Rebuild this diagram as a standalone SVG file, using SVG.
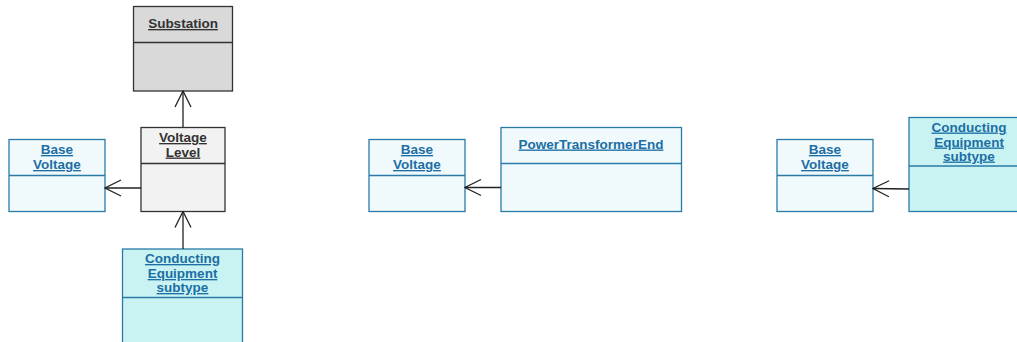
<svg xmlns="http://www.w3.org/2000/svg" width="1017" height="342" viewBox="0 0 1017 342">
<style>
.t{font-family:"Liberation Sans",Arial,sans-serif;font-weight:bold;font-size:13.5px;text-anchor:middle;text-decoration:underline}
.blue{fill:#1c6ea4}
.dark{fill:#333333}
.bb{stroke:#2a7aa8;stroke-width:1.3}
.db{stroke:#333333;stroke-width:1.3}
.c{stroke:#222;stroke-width:1.3;fill:none}
</style>
<defs>
<marker id="open" viewBox="0 0 20 20" refX="19" refY="10" markerWidth="20" markerHeight="20" markerUnits="userSpaceOnUse" orient="auto">
<path d="M3,2 L19,10 L3,18" fill="none" stroke="#222" stroke-width="1.3"/>
</marker>
</defs>
<g id="substation">
<rect x="133.5" y="6.5" width="99" height="84.5" fill="#d9d9d9" class="db"/>
<line x1="133.5" y1="42.5" x2="232.5" y2="42.5" class="db"/>
<text x="183" y="28" class="t dark">Substation</text>
</g>
<g id="voltagelevel">
<rect x="141" y="127.5" width="84" height="84" fill="#f2f2f2" class="db"/>
<line x1="141" y1="163.5" x2="225" y2="163.5" class="db"/>
<text x="183" y="142" class="t dark">Voltage</text>
<text x="183" y="156.5" class="t dark">Level</text>
</g>
<g id="basevoltage1">
<rect x="9" y="139.5" width="96" height="72" fill="#f0fafc" class="bb"/>
<line x1="9" y1="175.5" x2="105" y2="175.5" class="bb"/>
<text x="57" y="154" class="t blue">Base</text>
<text x="57" y="169" class="t blue">Voltage</text>
</g>
<g id="conducting1">
<rect x="122.5" y="249" width="120" height="100" fill="#c9f3f3" class="bb"/>
<line x1="122.5" y1="297.5" x2="242.5" y2="297.5" class="bb"/>
<text x="182.5" y="263" class="t blue">Conducting</text>
<text x="182.5" y="278" class="t blue">Equipment</text>
<text x="182.5" y="292" class="t blue">subtype</text>
</g>
<g id="basevoltage2">
<rect x="369" y="139.5" width="96" height="72" fill="#f0fafc" class="bb"/>
<line x1="369" y1="175.5" x2="465" y2="175.5" class="bb"/>
<text x="417" y="154" class="t blue">Base</text>
<text x="417" y="169" class="t blue">Voltage</text>
</g>
<g id="powertransformerend">
<rect x="501" y="127.5" width="180.5" height="84" fill="#f0fafc" class="bb"/>
<line x1="501" y1="163.5" x2="681.5" y2="163.5" class="bb"/>
<text x="591" y="148.5" class="t blue">PowerTransformerEnd</text>
</g>
<g id="basevoltage3">
<rect x="777" y="139.5" width="96" height="72" fill="#f0fafc" class="bb"/>
<line x1="777" y1="175.5" x2="873" y2="175.5" class="bb"/>
<text x="825" y="154" class="t blue">Base</text>
<text x="825" y="169" class="t blue">Voltage</text>
</g>
<g id="conducting3">
<rect x="909" y="117.5" width="120" height="94" fill="#c9f3f3" class="bb"/>
<line x1="909" y1="166" x2="1029" y2="166" class="bb"/>
<text x="969" y="131.5" class="t blue">Conducting</text>
<text x="969" y="146.5" class="t blue">Equipment</text>
<text x="969" y="160.5" class="t blue">subtype</text>
</g>
<g id="connectors">
<line x1="183" y1="127.5" x2="183" y2="91" class="c" marker-end="url(#open)"/>
<line x1="141" y1="188" x2="105" y2="188" class="c" marker-end="url(#open)"/>
<line x1="183" y1="249" x2="183" y2="211.5" class="c" marker-end="url(#open)"/>
<line x1="501" y1="187.5" x2="465" y2="187.5" class="c" marker-end="url(#open)"/>
<line x1="909" y1="189" x2="873" y2="188.5" class="c" marker-end="url(#open)"/>
</g>
</svg>
